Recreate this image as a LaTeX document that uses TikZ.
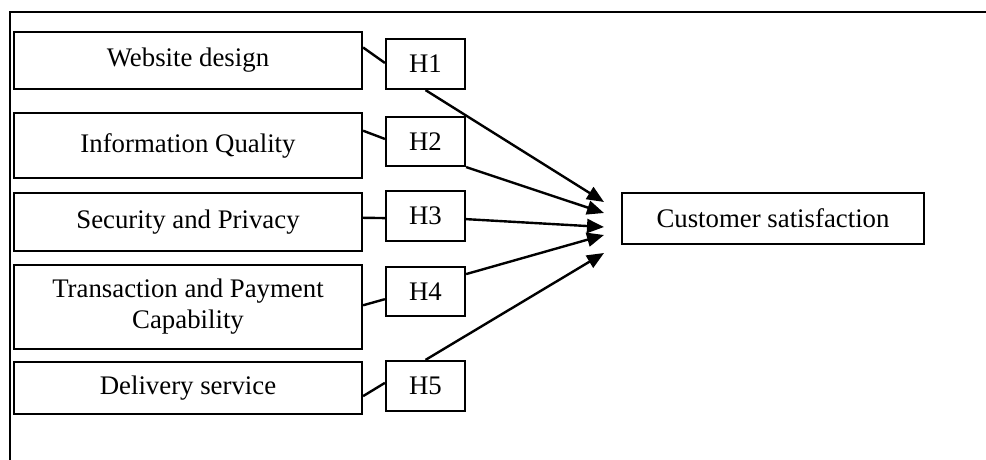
\documentclass[tikz,border=0pt]{standalone}
\usepackage{fontspec}
\setmainfont{Liberation Serif}
\usetikzlibrary{arrows.meta,calc}
\begin{document}
\begin{tikzpicture}[x=1pt,y=-1pt,
  box/.style={draw,line width=2.2pt,inner sep=0pt,align=center,
    font=\fontsize{26.8}{31}\selectfont},
  link/.style={line width=2.4pt},
  arr/.style={line width=2.4pt,-{Triangle[length=17pt,width=14pt]}}]
\useasboundingbox (0,0) rectangle (986,460);
\draw[line width=2.4pt] (10,461) -- (10,12) -- (987,12);
\node[box,minimum width=348pt,minimum height=57pt] (web) at (188,60.5) {Website design};
\node[box,minimum width=348pt,minimum height=65pt] (info) at (188,145.5) {Information Quality};
\node[box,minimum width=348pt,minimum height=58pt] (sec) at (188,222) {Security and Privacy};
\node[box,minimum width=348pt,minimum height=84pt] (trans) at (188,307) {Transaction and Payment\\Capability};
\node[box,minimum width=348pt,minimum height=52pt] (deliv) at (188,388) {Delivery service};
\node[box,minimum width=79pt,minimum height=50pt] (h1) at (425.5,64) {H1};
\node[box,minimum width=79pt,minimum height=49pt] (h2) at (425.5,141.5) {H2};
\node[box,minimum width=79pt,minimum height=50pt] (h3) at (425.5,216) {H3};
\node[box,minimum width=79pt,minimum height=49pt] (h4) at (425.5,291.5) {H4};
\node[box,minimum width=79pt,minimum height=50pt] (h5) at (425.5,386) {H5};
\node[box,minimum width=302pt,minimum height=51pt] (cs) at (773,218.5) {Customer satisfaction};
\coordinate (t1) at (604,202);
\coordinate (t2) at (604,213);
\coordinate (t3) at (604,227);
\coordinate (t4) at (604,235);
\coordinate (t5) at (604,253);
\draw[link] ($(web.north east)!0.28!(web.south east)$) -- ($(h1.north west)!0.48!(h1.south west)$);
\draw[link] ($(info.north east)!0.28!(info.south east)$) -- ($(h2.north west)!0.45!(h2.south west)$);
\draw[link] ($(sec.north east)!0.43!(sec.south east)$) -- ($(h3.north west)!0.54!(h3.south west)$);
\draw[link] ($(trans.north east)!0.48!(trans.south east)$) -- ($(h4.north west)!0.65!(h4.south west)$);
\draw[link] ($(deliv.north east)!0.65!(deliv.south east)$) -- ($(h5.north west)!0.44!(h5.south west)$);
\draw[arr] (h1.south) -- (t1);
\draw[arr] (h2.south east) -- (t2);
\draw[arr] ($(h3.north east)!0.56!(h3.south east)$) -- (t3);
\draw[arr] ($(h4.north east)!0.16!(h4.south east)$) -- (t4);
\draw[arr] (h5.north) -- (t5);
\end{tikzpicture}
\end{document}
